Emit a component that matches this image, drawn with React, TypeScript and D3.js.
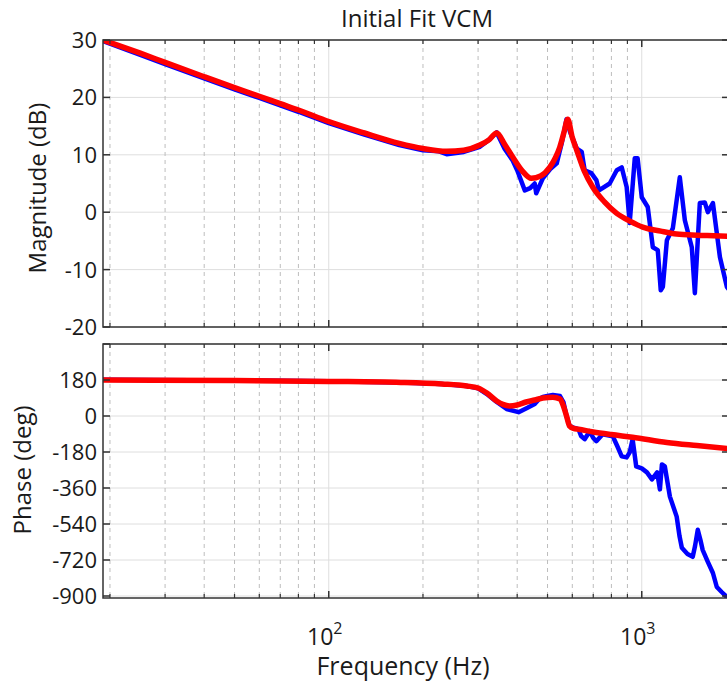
import React from 'react'
import * as d3 from 'd3'

// fitted model (red) and measured (blue) magnitude, dB
const fitMagFreq = [19, 25, 30, 40, 50, 60, 70, 80, 100, 130, 168, 200, 238, 270, 304, 325, 344, 365, 387, 415, 444, 475, 508, 530, 547, 565, 580, 600, 620, 655, 697, 760, 832, 920, 1007, 1150, 1293, 1500, 1700, 1900]
const fitMag = [30, 27.7, 26.1, 23.6, 21.7, 20.2, 18.9, 17.8, 15.8, 13.8, 12.0, 11.1, 10.6, 10.8, 11.7, 12.6, 13.8, 11.8, 9.6, 7.2, 5.9, 6.3, 7.8, 9.5, 11.3, 14.0, 16.2, 13.0, 10.8, 7.2, 4.4, 1.8, -0.2, -1.6, -2.6, -3.3, -3.8, -4.0, -4.1, -4.2]

const dataMagFreq = [19, 25, 30, 40, 50, 60, 70, 80, 100, 130, 168, 200, 225, 238, 270, 304, 325, 344, 365, 387, 400, 423, 440, 455, 460, 483, 510, 535, 555, 575, 590, 620, 643, 657, 690, 716, 730, 790, 832, 863, 895, 915, 950, 970, 1000, 1045, 1085, 1125, 1150, 1168, 1203, 1257, 1323, 1373, 1445, 1478, 1533, 1590, 1626, 1688, 1777, 1870, 1900]
const dataMag = [29.8, 27.4, 25.8, 23.3, 21.4, 19.9, 18.6, 17.5, 15.5, 13.5, 11.7, 10.8, 10.6, 10.1, 10.5, 11.4, 12.6, 13.9, 11.0, 9.0, 7.3, 3.8, 4.2, 5.0, 3.3, 5.9, 7.5, 8.5, 12.0, 16.2, 14.0, 11.1, 10.5, 7.3, 6.8, 5.6, 3.8, 5.0, 7.3, 7.8, 4.4, -1.9, 9.4, 9.4, 2.6, 0.9, -6.1, -6.6, -13.6, -13.0, -4.9, -2.8, 6.1, -1.4, -6.1, -14.1, 1.6, 1.7, 0, 1.6, -7.8, -13.0, -13.5]

// phase, deg
const fitPhaseFreq = [19, 50, 100, 170, 230, 276, 300, 320, 344, 360, 378, 400, 427, 455, 483, 520, 548, 562, 575, 588, 605, 628, 700, 800, 935, 1203, 1500, 1900]
const fitPhase = [180, 177, 173, 168, 160, 150, 140, 115, 75, 58, 50, 55, 70, 80, 90, 94, 85, 50, 0, -50, -62, -66, -80, -93, -106, -132, -148, -164]

const dataPhaseFreq = [19, 50, 100, 170, 230, 276, 300, 320, 344, 370, 404, 430, 455, 470, 483, 500, 520, 548, 562, 575, 588, 610, 628, 640, 657, 682, 700, 716, 750, 808, 835, 863, 895, 915, 935, 960, 1000, 1039, 1078, 1120, 1143, 1160, 1185, 1230, 1293, 1320, 1343, 1400, 1455, 1480, 1510, 1540, 1565, 1626, 1688, 1737, 1800, 1870, 1900]
const dataPhase = [181, 178, 174, 168, 160, 150, 138, 110, 70, 35, 19, 40, 60, 85, 95, 100, 105, 100, 70, 0, -50, -60, -66, -100, -116, -76, -110, -126, -91, -101, -150, -202, -207, -182, -116, -252, -262, -282, -317, -282, -367, -242, -252, -403, -503, -600, -659, -690, -704, -650, -569, -620, -669, -729, -785, -855, -880, -905, -915]

const magTicks = [30, 20, 10, 0, -10, -20]
const phaseTicks = [360, 180, 0, -180, -360, -540, -720, -900]
const phaseTickLabels = ['', '180', '0', '-180', '-360', '-540', '-720', '-900']
const decades = [100, 1000]
const minorFreqs = [20, 30, 40, 50, 60, 70, 80, 90, 200, 300, 400, 500, 600, 700, 800, 900]

const W = 727
const H = 683
const L = 103
const R = 729
const magTop = 40
const magBot = 327
const phTop = 344
const phBot = 598

const font = "'Open Sans', 'Noto Sans', sans-serif"
const axisColor = '#333'
const textColor = '#1a1a1a'

const x = d3.scaleLog().domain([19, 1900]).range([L, R])
const yMag = d3.scaleLinear().domain([-20, 30]).range([magBot, magTop])
const yPh = d3.scaleLinear().domain([-910, 360]).range([phBot, phTop])

function Panel ({ id, top, bot, y, ticks, labels, children }) {
  return (
    <g>
      <defs>
        <clipPath id={id}>
          <rect x={L} y={top} width={R - L} height={bot - top} />
        </clipPath>
      </defs>
      {/* grid */}
      {ticks.map((t) => (
        <line key={'h' + t} x1={L} x2={R} y1={y(t)} y2={y(t)} stroke='#dedede' strokeWidth={1} />
      ))}
      {minorFreqs.map((f) => (
        <line key={'m' + f} x1={x(f)} x2={x(f)} y1={top} y2={bot} stroke='#bdbdbd' strokeWidth={1} strokeDasharray='4,4' />
      ))}
      {decades.map((f) => (
        <line key={'d' + f} x1={x(f)} x2={x(f)} y1={top} y2={bot} stroke='#dedede' strokeWidth={1} />
      ))}
      <g clipPath={`url(#${id})`}>{children}</g>
      {/* box */}
      <rect x={L} y={top} width={R - L} height={bot - top} fill='none' stroke={axisColor} strokeWidth={1.5} />
      {ticks.map((t, i) => (
        <g key={'t' + t}>
          <line x1={L} x2={L + 7} y1={y(t)} y2={y(t)} stroke={axisColor} strokeWidth={1.5} />
          <line x1={R - 7} x2={R} y1={y(t)} y2={y(t)} stroke={axisColor} strokeWidth={1.5} />
          <text x={L - 6} y={y(t)} dy='0.36em' textAnchor='end' fontSize={22} fontFamily={font} fill={textColor}>
            {labels[i]}
          </text>
        </g>
      ))}
      {minorFreqs.map((f) => (
        <g key={'mt' + f}>
          <line x1={x(f)} x2={x(f)} y1={top} y2={top + 4} stroke={axisColor} strokeWidth={1.2} />
          <line x1={x(f)} x2={x(f)} y1={bot} y2={bot - 4} stroke={axisColor} strokeWidth={1.2} />
        </g>
      ))}
      {decades.map((f) => (
        <g key={'dt' + f}>
          <line x1={x(f)} x2={x(f)} y1={top} y2={top + 7} stroke={axisColor} strokeWidth={1.5} />
          <line x1={x(f)} x2={x(f)} y1={bot} y2={bot - 7} stroke={axisColor} strokeWidth={1.5} />
        </g>
      ))}
    </g>
  )
}

function makeLine (freqs, vals, y, curve) {
  const pts = freqs.map((f, i) => [f, vals[i]])
  return d3.line().x((d) => x(d[0])).y((d) => y(d[1])).curve(curve)(pts)
}

export default function App () {
  const magLabels = magTicks.map(String)
  return (
    <svg width={W} height={H} style={{ position: 'absolute', left: 0, top: 0, background: '#fff' }}>
      <rect width={W} height={H} fill='#fff' />
      <text x={417} y={27} textAnchor='middle' fontSize={24} fontFamily={font} fill={textColor}>Initial Fit VCM</text>

      <Panel id='clipMag' top={magTop} bot={magBot} y={yMag} ticks={magTicks} labels={magLabels}>
        <path d={makeLine(dataMagFreq, dataMag, yMag, d3.curveLinear)} fill='none' stroke='#0000ff' strokeWidth={4.5} strokeLinejoin='round' />
        <path d={makeLine(fitMagFreq, fitMag, yMag, d3.curveMonotoneX)} fill='none' stroke='#ff0000' strokeWidth={5.5} strokeLinejoin='round' />
      </Panel>

      <Panel id='clipPh' top={phTop} bot={phBot} y={yPh} ticks={phaseTicks} labels={phaseTickLabels}>
        <path d={makeLine(dataPhaseFreq, dataPhase, yPh, d3.curveLinear)} fill='none' stroke='#0000ff' strokeWidth={4.5} strokeLinejoin='round' />
        <path d={makeLine(fitPhaseFreq, fitPhase, yPh, d3.curveMonotoneX)} fill='none' stroke='#ff0000' strokeWidth={5.5} strokeLinejoin='round' />
      </Panel>

      <text transform={`translate(46,188) rotate(-90)`} textAnchor='middle' fontSize={24} fontFamily={font} fill={textColor}>Magnitude (dB)</text>
      <text transform={`translate(31,470) rotate(-90)`} textAnchor='middle' fontSize={24} fontFamily={font} fill={textColor}>Phase (deg)</text>

      {decades.map((f) => (
        <text key={'xl' + f} x={x(f) - 4} y={645} textAnchor='middle' fontSize={23} fontFamily={font} fill={textColor}>
          10<tspan dy={-11} fontSize={16}>{Math.log10(f)}</tspan>
        </text>
      ))}
      <text x={403} y={675} textAnchor='middle' fontSize={25} fontFamily={font} fill={textColor}>Frequency (Hz)</text>
    </svg>
  )
}
